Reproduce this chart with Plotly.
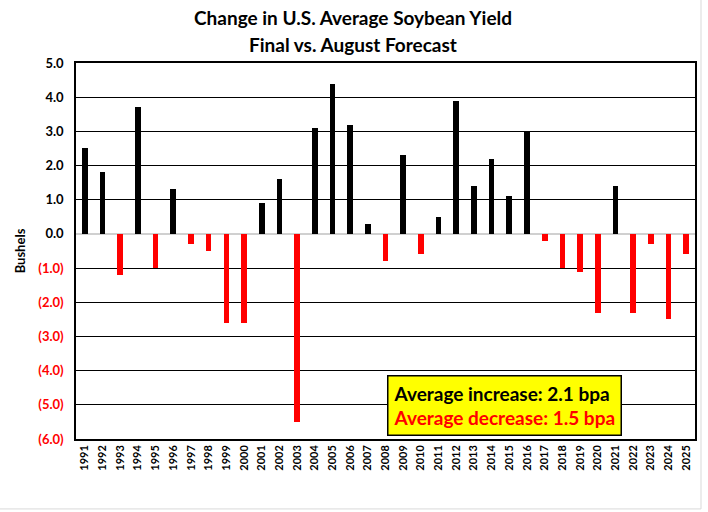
import plotly.graph_objects as go

years = [str(y) for y in range(1991, 2026)]
changes = [2.5, 1.8, -1.2, 3.7, -1.0, 1.3, -0.3, -0.5, -2.6, -2.6,
           0.9, 1.6, -5.5, 3.1, 4.4, 3.2, 0.3, -0.8, 2.3, -0.6,
           0.5, 3.9, 1.4, 2.2, 1.1, 3.0, -0.2, -1.0, -1.1, -2.3,
           1.4, -2.3, -0.3, -2.5, -0.6]
ytick_vals = [5, 4, 3, 2, 1, 0, -1, -2, -3, -4, -5, -6]
ytick_text = ["5.0", "4.0", "3.0", "2.0", "1.0", "0.0",
              "(1.0)", "(2.0)", "(3.0)", "(4.0)", "(5.0)", "(6.0)"]
title_lines = ["Change in U.S. Average Soybean Yield", "Final vs. August Forecast"]
avg_increase = 2.1
avg_decrease = 1.5

colors = ["black" if v >= 0 else "#ff0000" for v in changes]
ticktext = [t if v >= 0 else f"<span style='color:#ff0000'>{t}</span>"
            for v, t in zip(ytick_vals, ytick_text)]

FONT = "Lato"

fig = go.Figure(go.Bar(x=years, y=changes, marker_color=colors,
                       marker_line_width=0, width=0.32))

fig.update_layout(
    width=708, height=512,
    margin=dict(l=76, r=11, t=63, b=73),
    paper_bgcolor="white", plot_bgcolor="white",
    font=dict(family=FONT, color="black"),
    showlegend=False,
    bargap=0,
)
fig.update_xaxes(
    type="category", tickangle=-90, showgrid=False,
    tickfont=dict(size=11, family=FONT, color="black", weight="bold"),
    showline=True, linecolor="black", linewidth=1.5, mirror=True,
    ticks="", zeroline=False,
)
fig.update_yaxes(
    range=[-6, 5], tickvals=ytick_vals, ticktext=ticktext,
    tickfont=dict(size=13, family=FONT, color="black", weight="bold"),
    showgrid=True, gridcolor="black", gridwidth=1.2,
    showline=True, linecolor="black", linewidth=1.5, mirror=True,
    zeroline=True, zerolinecolor="#d0d0d0", zerolinewidth=1.5,
    ticks="", ticklabelstandoff=8,
    title=dict(text="<b>Bushels</b>", font=dict(size=13, family=FONT), standoff=10),
)

for line, ypos in zip(title_lines, [1.122, 1.05]):
    fig.add_annotation(
        xref="paper", yref="paper", x=0.447, y=ypos,
        xanchor="center", yanchor="middle", showarrow=False,
        text=f"<b>{line}</b>", font=dict(size=19, family=FONT, color="black"),
    )

fig.add_annotation(
    xref="paper", yref="paper", x=0.502, y=0.089, xanchor="left", yanchor="middle",
    text=(f"Average increase: {avg_increase:.1f} bpa<br>"
          f"<span style='color:#ff0000'>Average decrease: {avg_decrease:.1f} bpa</span>"),
    showarrow=False, align="left",
    font=dict(size=19, family=FONT, color="black", weight="bold"),
    bgcolor="#ffff00", bordercolor="black", borderwidth=1.5, borderpad=5,
)

fig.add_shape(type="rect", xref="paper", yref="paper",
              x0=-0.3, x1=1.0097, y0=-0.186, y1=1.3,
              line=dict(color="#d9d9d9", width=1), layer="below")

fig.write_html("out.html")
